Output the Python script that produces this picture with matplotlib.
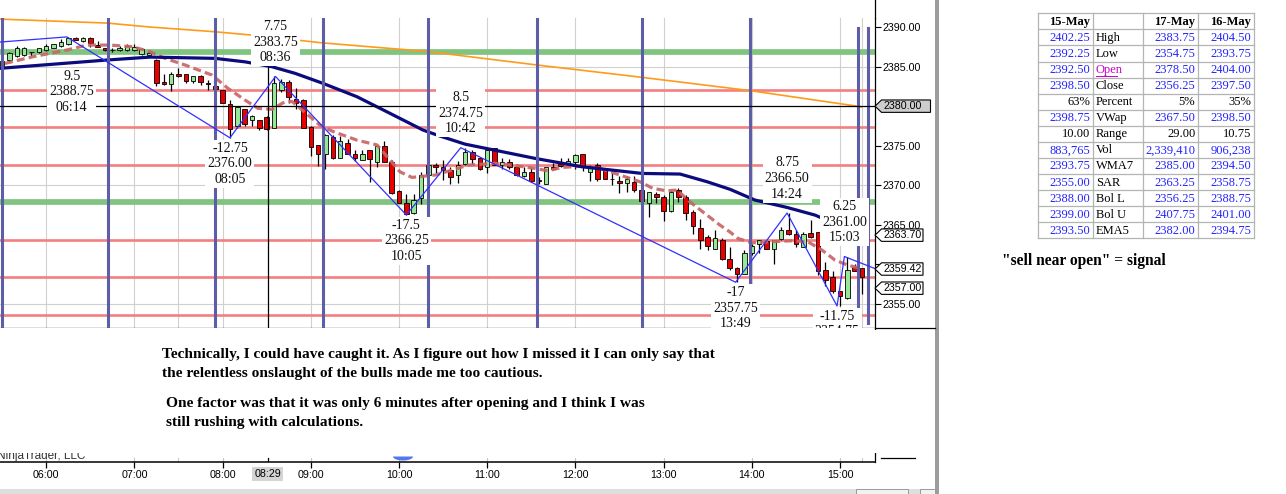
import numpy as np
import matplotlib.pyplot as plt
from matplotlib.patches import Rectangle, Polygon
from matplotlib.transforms import blended_transform_factory
from matplotlib.ticker import FuncFormatter

plt.rcParams["font.family"] = ["Liberation Sans", "DejaVu Sans"]
SERIF = ["Liberation Serif", "DejaVu Serif"]


def hrs(s):
    h, m = s.split(":")
    return int(h) + int(m) / 60.0


# ---------------- 5 minute bars, 05:30 -> 15:15 ----------------
first_bar = "05:30"
bar_step = 5

bar_open = [
    2385.1, 2385.8, 2386.3, 2386.5, 2386.8, 2386.8, 2387.1, 2387.4, 2387.6, 2387.9,
    2388.6, 2388.2, 2388.55, 2387.7, 2387.3, 2387.1, 2387.1, 2387.1, 2387.1, 2386.55,
    2386.5, 2385.8, 2383.1, 2382.8, 2384.1, 2384.05, 2383.2, 2383.8, 2382.9, 2382.6,
    2382.0, 2380.3, 2377.5, 2379.6, 2378.3, 2378.3, 2378.6, 2377.3, 2382.0, 2383.1,
    2380.85, 2380.8, 2377.4, 2375.1, 2373.95, 2376.05, 2373.5, 2375.3, 2374.0, 2373.2,
    2374.4, 2373.0, 2374.95, 2372.95, 2369.3, 2367.8, 2366.5, 2368.35, 2371.3, 2372.55,
    2372.25, 2371.9, 2371.3, 2372.7, 2374.25, 2373.5, 2372.25, 2374.75, 2372.55, 2372.95,
    2372.25, 2371.2, 2371.7, 2370.7, 2370.15, 2372.35, 2372.75, 2372.75, 2372.95, 2373.9,
    2371.7, 2372.55, 2372.1, 2370.75, 2370.55, 2370.3, 2370.45, 2369.4, 2367.8, 2368.85,
    2368.55, 2366.8, 2369.4, 2368.55, 2366.65, 2364.55, 2363.5, 2362.0, 2363.15, 2360.75,
    2359.5, 2358.85, 2361.4, 2362.55, 2362.95, 2362.0, 2363.2, 2364.3, 2363.9, 2362.2,
    2364.0, 2364.1, 2359.3, 2358.35, 2356.7, 2355.7, 2359.7, 2359.5]
bar_high = [
    2385.9, 2386.9, 2387.6, 2387.5, 2386.8, 2387.3, 2387.85, 2387.9, 2388.45, 2388.75,
    2388.75, 2388.7, 2388.7, 2388.25, 2387.4, 2387.4, 2387.6, 2387.85, 2387.85, 2387.3,
    2387.0, 2385.9, 2384.1, 2384.35, 2384.8, 2384.05, 2383.8, 2383.9, 2383.3, 2382.8,
    2382.0, 2380.8, 2379.85, 2379.7, 2378.9, 2378.3, 2378.7, 2383.75, 2383.4, 2383.3,
    2382.25, 2380.85, 2377.5, 2375.1, 2376.5, 2376.3, 2376.2, 2375.8, 2374.45, 2374.5,
    2374.4, 2375.1, 2375.6, 2373.25, 2369.4, 2368.9, 2368.95, 2371.7, 2372.55, 2372.85,
    2373.2, 2372.35, 2373.1, 2374.75, 2374.45, 2373.5, 2374.75, 2374.75, 2373.5, 2373.3,
    2372.25, 2372.25, 2372.25, 2371.1, 2372.35, 2372.85, 2373.5, 2373.4, 2374.0, 2374.0,
    2372.55, 2372.8, 2372.1, 2371.5, 2371.2, 2371.2, 2371.2, 2369.6, 2369.2, 2369.2,
    2368.75, 2369.4, 2369.6, 2368.75, 2366.87, 2365.8, 2363.7, 2364.3, 2363.3, 2362.2,
    2359.7, 2361.8, 2362.6, 2363.15, 2363.15, 2363.15, 2364.75, 2366.5, 2364.3, 2364.1,
    2365.6, 2364.1, 2360.3, 2359.2, 2356.7, 2361.0, 2360.1, 2359.5]
bar_low = [
    2385.0, 2385.6, 2386.2, 2386.3, 2386.35, 2386.7, 2387.0, 2387.3, 2387.5, 2387.7,
    2388.3, 2388.1, 2387.5, 2387.45, 2387.0, 2386.8, 2387.0, 2387.0, 2387.0, 2386.45,
    2386.3, 2382.5, 2382.7, 2381.95, 2383.7, 2382.95, 2382.9, 2382.7, 2382.0, 2381.8,
    2380.35, 2376.0, 2377.3, 2377.5, 2377.5, 2377.0, 2377.0, 2377.3, 2381.8, 2380.35,
    2379.6, 2377.2, 2373.7, 2372.4, 2372.0, 2373.3, 2373.5, 2373.95, 2373.1, 2373.2,
    2370.45, 2372.3, 2373.0, 2368.95, 2367.7, 2366.25, 2366.35, 2367.6, 2371.3, 2371.5,
    2370.7, 2370.15, 2370.3, 2372.6, 2372.7, 2371.9, 2371.6, 2372.55, 2372.0, 2372.0,
    2371.2, 2371.1, 2370.45, 2370.2, 2370.15, 2371.9, 2372.25, 2372.55, 2372.0, 2371.8,
    2370.6, 2370.6, 2370.75, 2370.0, 2369.05, 2369.2, 2369.2, 2367.9, 2366.0, 2367.8,
    2365.5, 2366.65, 2367.9, 2365.6, 2363.8, 2362.0, 2361.8, 2361.9, 2360.6, 2359.3,
    2357.75, 2358.8, 2361.2, 2361.4, 2361.9, 2360.1, 2363.1, 2363.7, 2362.2, 2362.15,
    2363.4, 2358.65, 2357.25, 2356.4, 2354.75, 2355.6, 2359.2, 2356.3]
bar_close = [
    2385.75, 2386.7, 2387.3, 2387.3, 2386.8, 2387.3, 2387.65, 2387.8, 2388.15, 2388.6,
    2388.4, 2388.6, 2388.0, 2387.5, 2387.15, 2387.1, 2387.4, 2387.65, 2387.5, 2387.2,
    2386.75, 2382.95, 2382.8, 2384.1, 2383.8, 2383.2, 2383.8, 2383.0, 2382.85, 2382.2,
    2380.35, 2377.1, 2379.85, 2377.8, 2378.8, 2377.2, 2377.1, 2382.95, 2383.1, 2381.1,
    2380.35, 2377.3, 2374.8, 2373.9, 2376.35, 2373.5, 2375.6, 2374.0, 2373.5, 2374.0,
    2373.3, 2374.95, 2373.0, 2369.05, 2367.8, 2366.4, 2368.1, 2371.3, 2372.55, 2372.25,
    2371.9, 2371.1, 2372.55, 2374.25, 2373.3, 2372.0, 2374.5, 2372.55, 2372.95, 2372.25,
    2371.3, 2371.7, 2370.5, 2370.6, 2372.25, 2372.0, 2372.4, 2373.1, 2373.8, 2372.3,
    2372.25, 2370.75, 2370.75, 2370.75, 2370.3, 2370.75, 2369.4, 2368.05, 2369.1, 2368.55,
    2366.8, 2369.2, 2368.55, 2366.5, 2364.85, 2363.15, 2362.3, 2363.3, 2360.75, 2359.5,
    2358.85, 2361.4, 2362.3, 2363.05, 2362.0, 2363.05, 2364.3, 2363.8, 2362.55, 2363.8,
    2363.5, 2359.2, 2358.0, 2356.7, 2356.0, 2359.3, 2359.2, 2358.35]

# indicator lines (time in hours, price)
navy_t = [5.476, 6.689, 7.177, 7.914, 8.254, 8.56, 8.821, 9.138, 9.524, 9.898, 10.272,
          10.465, 10.749, 11.543, 12.076, 12.756, 13.187, 13.493, 13.754, 14.037, 14.4,
          14.718, 15.25]
navy_v = [2384.78, 2385.83, 2386.2, 2386.04, 2385.6, 2384.98, 2384.15, 2382.88, 2381.19,
          2379.09, 2376.98, 2376.22, 2375.2, 2373.4, 2372.34, 2371.5, 2371.42, 2370.45,
          2369.49, 2368.13, 2367.2, 2366.23, 2363.7]
orange_t = [5.476, 6.689, 7.177, 7.914, 8.31, 9.127, 10.329, 11.565, 12.756, 13.99, 15.192, 15.25]
orange_v = [2391.0, 2390.5, 2390.0, 2389.4, 2389.0, 2388.0, 2386.9, 2385.2, 2383.64, 2381.95,
            2380.0, 2379.9]
ema_t = [5.533, 5.850, 6.236, 6.463, 6.723, 6.984, 7.177, 7.347, 7.574, 7.880, 8.061, 8.254,
         8.401, 8.560, 8.707, 8.787, 9.104, 9.252, 9.524, 9.751, 9.898, 10.011, 10.147,
         10.408, 10.601, 10.782, 11.088, 11.281, 11.542, 11.689, 11.848, 12.075, 12.279,
         12.506, 12.732, 12.880, 13.039, 13.152, 13.299, 13.492, 13.639, 13.753, 13.844,
         14.002, 14.184, 14.456, 14.637, 14.796, 14.943, 15.091, 15.249]
ema_v = [2385.4, 2386.25, 2387.1, 2387.72, 2387.72, 2387.5, 2386.88, 2386.04, 2385.2, 2383.93,
         2382.25, 2380.77, 2379.72, 2379.6, 2380.56, 2380.6, 2377.6, 2376.8, 2375.7, 2375.1,
         2373.2, 2371.7, 2371.0, 2371.29, 2371.92, 2372.55, 2372.77, 2372.55, 2372.13,
         2371.83, 2372.26, 2372.4, 2372.13, 2371.29, 2370.45, 2369.6, 2369.3, 2369.4, 2367.9,
         2366.23, 2364.97, 2364.1, 2363.28, 2362.73, 2362.86, 2362.99, 2362.86, 2361.81,
         2360.55, 2359.9, 2359.45]

# zigzag swing points
zz_time = ["06:14", "08:05", "08:36", "10:05", "10:42", "13:49", "14:24", "14:58", "15:03"]
zz_price = [2388.75, 2376.00, 2383.75, 2366.25, 2374.75, 2357.75, 2366.50, 2354.75, 2361.00]
zz_swing = [9.5, -12.75, 7.75, -17.5, 8.5, -17, 8.75, -11.75, 6.25]
zz_first = 2388.10
zz_last = 2359.50

cycle_time = ["05:30", "06:42", "07:55", "09:08", "10:20", "11:34", "12:45", "13:59", "15:12", "15:19"]
red_levels = [2382.0, 2377.35, 2372.55, 2363.15, 2358.4, 2353.6]
green_levels = [2386.9, 2367.9]
grid_time = ["06:00", "07:00", "07:30", "08:00", "09:00", "10:00", "11:00", "12:00",
             "13:00", "14:00", "15:00", "15:15"]
grid_prices = [2355, 2370, 2385]
price_ticks = [2355, 2360, 2365, 2370, 2375, 2380, 2385, 2390]
hour_ticks = [6, 7, 8, 9, 10, 11, 12, 13, 14, 15]
cross_t = 8.51
cross_label = "08:29"
cross_price = 2380.00
marker_vals = [2380.00, 2363.70, 2359.42, 2357.00]

# table on the right
tbl_head = ["15-May", "", "17-May", "16-May"]
tbl_stats = ["High", "Low", "Open", "Close", "Percent", "VWap", "Range", "Vol", "WMA7",
             "SAR", "Bol L", "Bol U", "EMA5"]
may15 = ["2402.25", "2392.25", "2392.50", "2398.50", "63%", "2398.75", "10.00", "883,765",
         "2393.75", "2355.00", "2388.00", "2399.00", "2393.50"]
may17 = ["2383.75", "2354.75", "2378.50", "2356.25", "5%", "2367.50", "29.00", "2,339,410",
         "2385.00", "2363.25", "2356.25", "2407.75", "2382.00"]
may16 = ["2404.50", "2393.75", "2404.00", "2397.50", "35%", "2398.50", "10.75", "906,238",
         "2394.50", "2358.75", "2388.75", "2401.00", "2394.75"]

notes = ["Technically, I could have caught it. As I figure out how I missed it I can only say that",
         "the relentless onslaught of the bulls made me too cautious.",
         "One factor was that it was only 6 minutes after opening and I think I was",
         "still rushing with calculations."]
signal_note = '"sell near open" = signal'

# ---------------- figure ----------------
W, H = 1286, 494
T0, T1 = 5.4762, 15.3912
P0, P1 = 2351.93, 2391.14

fig = plt.figure(figsize=(W / 100, H / 100), dpi=100, facecolor="white")
ax = fig.add_axes([0, 1 - 328.3 / H, 874.5 / W, 310.3 / H])
ax2 = fig.add_axes([0, 1 - 462.3 / H, 874.5 / W, 134 / H])

grid_t = [hrs(s) for s in grid_time]
for t in grid_t:
    ax.axvline(t, color="#d2d0cc", lw=0.8, zorder=0.5)
for p in grid_prices:
    ax.axhline(p, color="#d2d0cc", lw=0.8, zorder=0.5)

for p in red_levels:
    ax.axhline(p, color="#f47f7f", lw=1.9, zorder=1)
for p in green_levels:
    ax.axhline(p, color="#80c480", lw=4.1, zorder=1)

# candles
o = np.array(bar_open)
hi = np.array(bar_high)
lo = np.array(bar_low)
c = np.array(bar_close)
bar_t = hrs(first_bar) + np.arange(len(o)) * bar_step / 60.0
colors = np.where(c >= o, "#96e896", "#e80000")
ax.vlines(bar_t, lo, hi, color="black", lw=0.9, zorder=2)
ax.bar(bar_t, c - o, bottom=o, width=0.052, color=colors, edgecolor="black",
       linewidth=0.6, zorder=2.1)

ax.plot(orange_t, orange_v, color="#ff9a1a", lw=1.2, zorder=2.4)
ax.plot(ema_t, ema_v, color="#c96666", lw=2.3, dashes=(2.5, 1.3), alpha=0.92, zorder=2.5)
ax.plot(navy_t, navy_v, color="#0b0b7e", lw=2.3, zorder=2.6)

for i, s in enumerate(cycle_time):
    if i >= len(cycle_time) - 2:
        ax.axvline(hrs(s), ymin=0.016, ymax=0.968, color="#5d5da8", lw=2.2, zorder=2.7)
    else:
        ax.axvline(hrs(s), color="#5d5da8", lw=2.2, zorder=2.7)

ax.axhline(cross_price, color="black", lw=0.9, zorder=2.8)
ax.axvline(cross_t, color="black", lw=0.9, zorder=2.8)

zz_t = [hrs(s) for s in zz_time]
ax.plot([T0] + zz_t + [T1], [zz_first] + zz_price + [zz_last], color="#3030ff", lw=0.9, zorder=3)

lbl_dx = [3.5, 0, 0, 0, 0, 0, 0, 0, 0]
lbl_dy = [-39.5, -18.7, 24.8, -18.7, 24.8, -18.7, 24.8, -18.7, 24.8]
for t, p, sw, s, dx, dy in zip(zz_t, zz_price, zz_swing, zz_time, lbl_dx, lbl_dy):
    ax.annotate(f"{sw:g}\n{p:.2f}\n{s}", xy=(t, p), xytext=(dx, dy), textcoords="offset points",
                ha="center", va="center", fontsize=10, family=SERIF, linespacing=1.26,
                color="#101010", zorder=4, clip_on=True,
                bbox=dict(boxstyle="square,pad=0.15", fc="white", ec="none"))

# price markers at the right axis
tr = blended_transform_factory(ax.transAxes, ax.transData)
axw = 874.5
hh = 6.2 / 7.914
for v in marker_vals:
    gray = v == cross_price
    right = 56 if gray else 48.5
    pts = [(1 + 0.5 / axw, v), (1 + 7 / axw, v + hh), (1 + right / axw, v + hh),
           (1 + right / axw, v - hh), (1 + 7 / axw, v - hh)]
    ax.add_patch(Polygon(pts, closed=True, transform=tr, fc="#cdcdcd" if gray else "white",
                         ec="black", lw=0.8, clip_on=False, zorder=5))
    ax.text(1 + 8.5 / axw, v, f"{v:.2f}", transform=tr, ha="left", va="center",
            fontsize=7.7, zorder=6, clip_on=False)


def price_fmt(v, pos):
    # tick labels sitting under a price marker are hidden, as on the platform
    if any(abs(v - m) < 1.0 for m in marker_vals):
        return ""
    return f"{v:.2f}"


ax.set_xlim(T0, T1)
ax.set_ylim(P0, P1)
for side in ["top", "left"]:
    ax.spines[side].set_visible(False)
ax.spines["right"].set_linewidth(0.9)
ax.spines["bottom"].set_linewidth(0.9)
ax.tick_params(axis="x", bottom=False, labelbottom=False)
ax.yaxis.tick_right()
ax.set_yticks(price_ticks)
ax.yaxis.set_major_formatter(FuncFormatter(price_fmt))
ax.tick_params(axis="y", direction="out", length=4.3, width=0.8, pad=1.5, labelsize=7.7)

# time axis panel
ax2.set_xlim(T0, T1)
ax2.set_ylim(0, 1)
for side in ["top", "left"]:
    ax2.spines[side].set_visible(False)
ax2.spines["right"].set_linewidth(0.9)
ax2.spines["bottom"].set_linewidth(1.1)
ax2.set_yticks([])
ax2.set_xticks(hour_ticks)
ax2.xaxis.set_major_formatter(FuncFormatter(lambda v, p: f"{int(round(v)):02d}:00"))
ax2.tick_params(axis="x", direction="out", length=4.3, width=0.9, pad=1.2, labelsize=7.7)
for t in grid_t:
    ax2.axvline(t, ymin=0, ymax=4 / 134, color="#c8c8c8", lw=0.8)
ax2.axvline(cross_t, ymin=0, ymax=4 / 134, color="black", lw=0.9)
ax2.text(cross_t, -0.0896, cross_label, transform=ax2.get_xaxis_transform(), ha="center",
         va="center", fontsize=7.7, bbox=dict(boxstyle="square,pad=0.2", fc="#d4d4d4", ec="none"))

# ---------------- overlay in pixel units ----------------
ov = fig.add_axes([0, 0, 1, 1], zorder=10)
ov.set_xlim(0, W)
ov.set_ylim(H, 0)
ov.axis("off")

ov.text(-3, 458.5, "NinjaTrader, LLC", fontsize=8.5, color="#333333", va="baseline", zorder=1)
ov.add_patch(Rectangle((0, 330), 935, 123, fc="white", ec="none", zorder=2))
th = np.linspace(0, np.pi, 25)
ov.add_patch(Polygon(np.column_stack([403 + 10 * np.cos(th), 456.5 + 4 * np.sin(th)]),
                     closed=True, fc="#5577ee", ec="none", zorder=3))

note_pos = [(162, 354.3), (162, 373.7), (166, 403.5), (166, 422.7)]
for txt, (x, y) in zip(notes, note_pos):
    ov.text(x, y, txt, family=SERIF, fontweight="bold", fontsize=11.1, va="center", zorder=3)

ov.plot([874.5, 874.5], [0, 18], color="black", lw=0.9)
ov.plot([874.5, 935], [328.3, 328.3], color="black", lw=0.9)
ov.plot([881, 915], [458.3, 458.3], color="black", lw=0.9)
ov.add_patch(Rectangle((935.3, 0), 3.2, H, fc="#9c9c9c", ec="none"))

ov.add_patch(Rectangle((0, 489), 935, 5, fc="#dedede", ec="none"))
ov.add_patch(Rectangle((856, 489), 52, 5, fc="#f2f2f2", ec="#9a9a9a", lw=0.7))
ov.add_patch(Rectangle((920, 489), 15, 5, fc="#f2f2f2", ec="#9a9a9a", lw=0.7))

# table
col_x = [1037.7, 1093.3, 1142.7, 1198.3, 1254.3]
row_y = [13.3 + 16.07 * i for i in range(15)]
for y in row_y:
    ov.plot([col_x[0], col_x[-1]], [y, y], color="#b4b4b4", lw=0.9)
for x in col_x:
    ov.plot([x, x], [row_y[0], row_y[-1]], color="#b4b4b4", lw=0.9)

yc = (row_y[0] + row_y[1]) / 2 + 0.5
for j, txt in enumerate(tbl_head):
    if txt:
        ov.text(col_x[j + 1] - 3, yc, txt, ha="right", va="center", family=SERIF,
                fontweight="bold", fontsize=9)
for r, stat in enumerate(tbl_stats):
    yc = (row_y[r + 1] + row_y[r + 2]) / 2 + 0.5
    vcol = "black" if stat in ("Percent", "Range") else "#2323ff"
    ov.text(col_x[1] - 3, yc, may15[r], ha="right", va="center", family=SERIF, fontsize=9, color=vcol)
    lcol = "#cc00cc" if stat == "Open" else "black"
    ov.text(col_x[1] + 2.5, yc, stat, ha="left", va="center", family=SERIF, fontsize=9, color=lcol)
    if stat == "Open":
        ov.plot([col_x[1] + 2.5, col_x[1] + 24], [yc + 5.5, yc + 5.5], color=lcol, lw=0.7)
    ov.text(col_x[3] - 3, yc, may17[r], ha="right", va="center", family=SERIF, fontsize=9, color=vcol)
    ov.text(col_x[4] - 3, yc, may16[r], ha="right", va="center", family=SERIF, fontsize=9, color=vcol)

ov.text(1002, 261, signal_note, family=SERIF, fontweight="bold", fontsize=11.2, va="center")

fig.savefig("out.png", dpi=100, facecolor="white")
